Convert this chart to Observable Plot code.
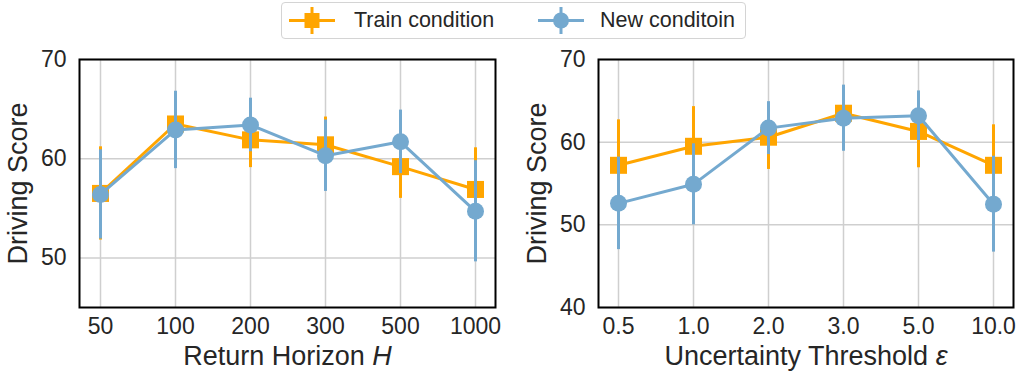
<!DOCTYPE html>
<html><head><meta charset="utf-8">
<script src="https://cdn.jsdelivr.net/npm/d3@7"></script>
<script src="https://cdn.jsdelivr.net/npm/@observablehq/plot@0.6"></script>
<style>
body{margin:0;background:#fff;font-family:"Liberation Sans",Arial,sans-serif;color:#262626;}
#wrap{position:relative;width:1022px;height:377px;overflow:hidden;}
#legend{position:absolute;left:281px;top:2px;width:463px;height:35px;border:1px solid #d4d4d4;border-radius:4px;background:#fff;}
.item{position:absolute;top:0;height:35px;display:flex;align-items:center;font-size:21.5px;}
#row{position:absolute;left:0;top:40px;display:flex;}
</style></head>
<body><div id="wrap">
<div id="legend">
  <div class="item" style="left:6px"><svg width="48" height="35"><line x1="1" x2="47" y1="17.5" y2="17.5" stroke="#FFA500" stroke-width="3"/><line x1="24" x2="24" y1="4" y2="31" stroke="#FFA500" stroke-width="3"/><rect x="16.5" y="10" width="15" height="15" fill="#FFA500"/></svg><span id="lg1" style="margin-left:18px"></span></div>
  <div class="item" style="left:255px"><svg width="48" height="35"><line x1="1" x2="47" y1="17.5" y2="17.5" stroke="#74A9CF" stroke-width="3"/><line x1="24" x2="24" y1="4" y2="31" stroke="#74A9CF" stroke-width="3"/><circle cx="24" cy="17.5" r="8" fill="#74A9CF"/></svg><span id="lg2" style="margin-left:15px"></span></div>
</div>
<div id="row"></div>
</div>
<script>
const seriesNames = ["Train condition", "New conditoin"];
const horizonLabels = ["50","100","200","300","500","1000"];
const thresholdLabels = ["0.5","1.0","2.0","3.0","5.0","10.0"];
const horizonTrain = [56.5, 63.5, 61.9, 61.4, 59.2, 56.9];
const horizonTrainErr = [4.7, 3.2, 2.8, 2.8, 3.2, 4.2];
const horizonNew = [56.4, 62.9, 63.4, 60.3, 61.7, 54.7];
const horizonNewErr = [4.5, 3.9, 2.7, 3.6, 3.2, 5.1];
const thresholdTrain = [57.2, 59.5, 60.6, 63.5, 61.3, 57.2];
const thresholdTrainErr = [5.5, 4.8, 3.9, 3.0, 4.4, 4.9];
const thresholdNew = [52.6, 54.9, 61.7, 62.9, 63.2, 52.5];
const thresholdNewErr = [5.6, 4.9, 3.2, 4.0, 3.0, 5.8];
const horizonYTicks = [50, 60, 70];
const thresholdYTicks = [40, 50, 60, 70];
const yLabel = "Driving Score";

document.getElementById("lg1").textContent = seriesNames[0];
document.getElementById("lg2").textContent = seriesNames[1];

const ORANGE = "#FFA500", BLUE = "#74A9CF", GRID = "#cfcfcf";

function makePlot(labels, train, trainErr, nw, nwErr, yDomain, yTicks, xLabelMain, xLabelItalic, marginLeft, marginRight) {
  const t = labels.map((c, i) => ({c, v: train[i], lo: train[i] - trainErr[i], hi: train[i] + trainErr[i]}));
  const n = labels.map((c, i) => ({c, v: nw[i], lo: nw[i] - nwErr[i], hi: nw[i] + nwErr[i]}));
  const xLabel = xLabelMain + xLabelItalic;
  const svg = Plot.plot({
    width: 511, height: 337,
    marginTop: 19, marginBottom: 70, marginLeft, marginRight,
    style: {fontFamily: "'Liberation Sans', Arial, sans-serif", fontSize: "23px", color: "#262626", background: "white", overflow: "visible"},
    x: {type: "point", domain: labels, padding: 0.25},
    y: {domain: yDomain},
    marks: [
      Plot.gridX(labels, {stroke: GRID, strokeOpacity: 1, strokeWidth: 1.5}),
      Plot.gridY(yTicks, {stroke: GRID, strokeOpacity: 1, strokeWidth: 1.5}),
      Plot.axisX({tickSize: 0, tickPadding: 10, label: null}),
      Plot.axisY(yTicks, {tickSize: 0, tickPadding: 13, label: null}),
      Plot.line(t, {x: "c", y: "v", stroke: ORANGE, strokeWidth: 3}),
      Plot.ruleX(t, {x: "c", y1: "lo", y2: "hi", stroke: ORANGE, strokeWidth: 3}),
      Plot.dot(t, {x: "c", y: "v", symbol: "square", r: 9.6, fill: ORANGE, stroke: null}),
      Plot.line(n, {x: "c", y: "v", stroke: BLUE, strokeWidth: 3}),
      Plot.ruleX(n, {x: "c", y1: "lo", y2: "hi", stroke: BLUE, strokeWidth: 3}),
      Plot.dot(n, {x: "c", y: "v", r: 8.5, fill: BLUE, stroke: null}),
      Plot.frame({stroke: "black", strokeWidth: 2}),
      Plot.text([xLabel], {frameAnchor: "bottom", lineAnchor: "middle", textAnchor: "middle", dy: 49, fontSize: 27, fill: "#262626"}),
      Plot.text([yLabel], {frameAnchor: "left", lineAnchor: "middle", textAnchor: "middle", dx: -61, rotate: -90, fontSize: 27, fill: "#262626"})
    ]
  });
  d3.select(svg).selectAll("text").each(function() {
    if (this.textContent === xLabel) {
      const s = d3.select(this);
      s.text(null);
      s.append("tspan").text(xLabelMain);
      s.append("tspan").attr("font-style", "italic").text(xLabelItalic);
    }
  });
  return svg;
}

const row = document.getElementById("row");
row.appendChild(makePlot(horizonLabels, horizonTrain, horizonTrainErr, horizonNew, horizonNewErr, [45, 70], horizonYTicks, "Return Horizon ", "H", 79, 16));
row.appendChild(makePlot(thresholdLabels, thresholdTrain, thresholdTrainErr, thresholdNew, thresholdNewErr, [40, 70], thresholdYTicks, "Uncertainty Threshold ", "ε", 87, 9));
</script>
</body></html>
